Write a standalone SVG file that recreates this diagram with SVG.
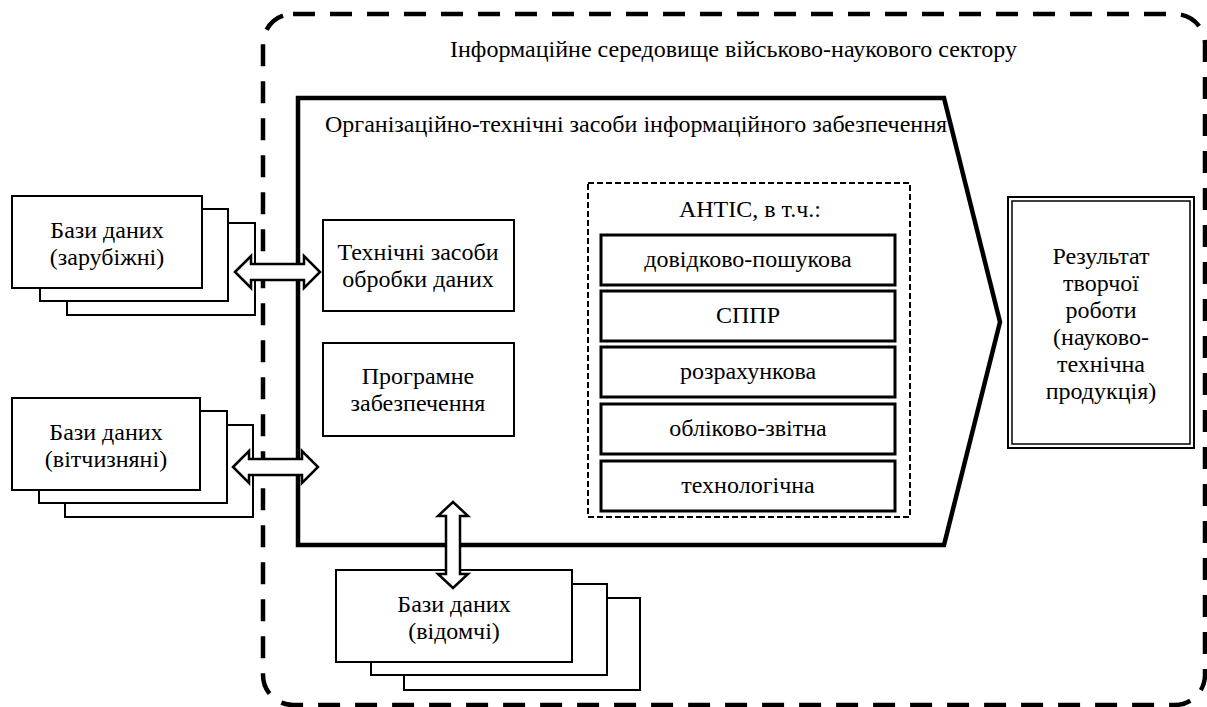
<svg xmlns="http://www.w3.org/2000/svg" width="1207" height="707" viewBox="0 0 1207 707">
<style>
.c{text-anchor:middle}
.box{fill:#fff;stroke:#000;stroke-width:2}
.sbox{fill:#fff;stroke:#000;stroke-width:3}
.arr{fill:#fff;stroke:#000;stroke-width:2.5;stroke-linejoin:miter}
</style>
<rect width="1207" height="707" fill="#fff"/>
<g font-family="'Liberation Serif', serif" font-size="24" fill="#000">
<g id="environment">
<rect x="263" y="14" width="942" height="691" rx="30" fill="none" stroke="#000" stroke-width="4.5" stroke-dasharray="22 15"/>
<text x="450" y="57">Інформаційне середовище військово-наукового сектору</text>
</g>
<g id="org-tech">
<path d="M298,98 L944,98 L1000,322 L944,545 L298,545 Z" fill="#fff" stroke="#000" stroke-width="4.5"/>
<text x="325" y="132">Організаційно-технічні засоби інформаційного забезпечення</text>
</g>
<g id="db-foreign">
<rect class="box" x="67" y="223" width="188" height="92"/>
<rect class="box" x="40" y="209" width="188" height="92"/>
<rect class="box" x="12" y="196" width="190" height="92"/>
<text class="c" x="107" y="238">Бази даних</text>
<text class="c" x="107" y="265">(зарубіжні)</text>
</g>
<g id="db-domestic">
<rect class="box" x="65" y="425" width="188" height="92"/>
<rect class="box" x="39" y="411" width="188" height="92"/>
<rect class="box" x="12" y="398" width="188" height="92"/>
<text class="c" x="106" y="440">Бази даних</text>
<text class="c" x="106" y="467">(вітчизняні)</text>
</g>
<g id="db-departmental">
<rect class="box" x="404" y="598" width="236" height="92"/>
<rect class="box" x="371" y="584" width="236" height="91"/>
<rect class="box" x="336" y="570" width="236" height="92"/>
<text class="c" x="454" y="612">Бази даних</text>
<text class="c" x="454" y="639">(відомчі)</text>
</g>
<g id="tech-means">
<rect class="box" x="323" y="220" width="191" height="91"/>
<text class="c" x="418" y="260">Технічні засоби</text>
<text class="c" x="418" y="287">обробки даних</text>
</g>
<g id="software">
<rect class="box" x="323" y="343" width="191" height="93"/>
<text class="c" x="418" y="384">Програмне</text>
<text class="c" x="418" y="411">забезпечення</text>
</g>
<g id="antis">
<rect x="588" y="183" width="322" height="334" fill="none" stroke="#000" stroke-width="2" stroke-dasharray="6 3"/>
<text class="c" x="750" y="217">АНТІС, в т.ч.:</text>
</g>
<g id="antis-1"><rect class="sbox" x="601" y="235" width="294" height="50"/><text class="c" x="748" y="267">довідково-пошукова</text></g>
<g id="antis-2"><rect class="sbox" x="601" y="291" width="294" height="50"/><text class="c" x="748" y="323">СППР</text></g>
<g id="antis-3"><rect class="sbox" x="601" y="347" width="294" height="50"/><text class="c" x="748" y="379">розрахункова</text></g>
<g id="antis-4"><rect class="sbox" x="601" y="404" width="294" height="50"/><text class="c" x="748" y="436">обліково-звітна</text></g>
<g id="antis-5"><rect class="sbox" x="601" y="461" width="294" height="50"/><text class="c" x="748" y="493">технологічна</text></g>
<g id="result">
<rect x="1008" y="197" width="186" height="251" fill="#fff" stroke="#000" stroke-width="2"/>
<rect x="1012" y="201" width="178" height="243" fill="none" stroke="#000" stroke-width="1.5"/>
<text class="c" x="1101" y="264">Результат</text>
<text class="c" x="1101" y="291">творчої</text>
<text class="c" x="1101" y="318">роботи</text>
<text class="c" x="1101" y="345">(науково-</text>
<text class="c" x="1101" y="372">технічна</text>
<text class="c" x="1101" y="399">продукція)</text>
</g>
</g>
<g id="connectors">
<path class="arr" d="M235,272 L251,256 L251,264 L304,264 L304,256 L320,272 L304,288 L304,280 L251,280 L251,288 Z"/>
<path class="arr" d="M233,467 L249,451 L249,459 L302,459 L302,451 L318,467 L302,483 L302,475 L249,475 L249,483 Z"/>
<path class="arr" d="M453,502 L468,516 L460,516 L460,574 L468,574 L453,588 L438,574 L446,574 L446,516 L438,516 Z"/>
</g>
</svg>
